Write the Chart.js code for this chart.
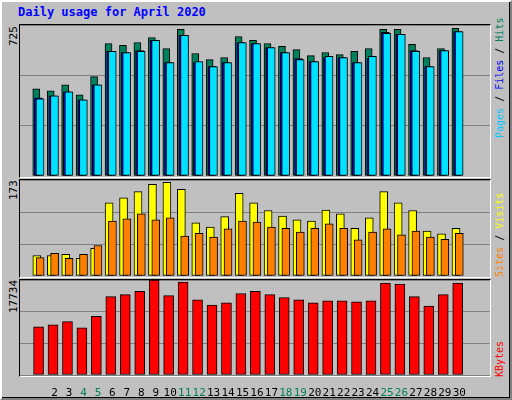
<!DOCTYPE html>
<html><head><meta charset="utf-8">
<script src="https://cdn.jsdelivr.net/npm/chart.js@4"></script>
<style>
body{margin:0;width:512px;height:400px;background:#C0C0C0;overflow:hidden;font-family:"DejaVu Sans Mono",monospace;}
#frame{position:absolute;left:0;top:0;width:508px;height:396px;border-top:2px solid #fff;border-left:2px solid #fff;border-right:2px solid #808080;border-bottom:2px solid #808080;box-shadow:inset -1px -1px 0 #000;}
.panel{position:absolute;left:19px;width:470px;border-top:1px solid #000;border-left:1px solid #000;border-right:1px solid #fff;border-bottom:1px solid #fff;}
.c{position:absolute;left:20px;}
.title{position:absolute;left:18px;top:5px;color:#0000FF;font-weight:bold;font-size:12px;}
.vl{position:absolute;transform-origin:0 0;transform:rotate(-90deg);font-size:11px;white-space:nowrap;line-height:12px;}
.vr{position:absolute;transform-origin:0 0;transform:rotate(-90deg);font-size:10px;white-space:nowrap;line-height:12px;}
</style></head><body>
<div id="frame"></div>
<div class="title">Daily usage for April 2020</div>
<div class="panel" style="top:24px;height:152px"></div>
<div class="panel" style="top:179px;height:97px"></div>
<div class="panel" style="top:279px;height:96px"></div>
<canvas id="c1" class="c" style="top:25px" width="470" height="151"></canvas>
<canvas id="c2" class="c" style="top:180px" width="470" height="96"></canvas>
<canvas id="c3" class="c" style="top:280px" width="470" height="117"></canvas>
<div class="vl" style="left:8px;top:46px;color:#000">725</div>
<div class="vl" style="left:8px;top:200px;color:#000">173</div>
<div class="vl" style="left:8px;top:313px;color:#000">17734</div>
<div class="vr" style="left:494px;top:138px"><span style="color:#00C8FF">Pages</span> / <span style="color:#0000FF">Files</span> / <span style="color:#00805C">Hits</span></div>
<div class="vr" style="left:494px;top:277px"><span style="color:#FF8000">Sites</span> / <span style="color:#FFFF00">Visits</span></div>
<div class="vr" style="left:494px;top:377px;color:#FF0000">KBytes</div>
<script>
const days=[1,2,3,4,5,6,7,8,9,10,11,12,13,14,15,16,17,18,19,20,21,22,23,24,25,26,27,28,29,30];
const weekendDays=[4,5,11,12,18,19,25,26];
const hits=[419,409,438,390,477,636,627,641,665,612,704,588,559,569,670,651,636,622,607,578,593,583,598,612,704,704,632,569,612,709];
const files=[375,385,404,366,438,598,593,602,651,544,675,544,525,544,641,636,617,593,564,549,569,569,544,564,690,680,602,525,602,694];
const pages=[370,385,404,366,438,598,593,598,651,544,675,549,525,544,641,636,617,593,559,549,574,569,544,574,685,680,598,525,602,694];
const visits=[37,37,39,32,50,132,141,152,165,169,156,96,88,107,149,132,118,108,101,99,119,112,86,105,152,132,118,81,76,86];
const sites=[33,41,32,39,55,99,103,112,101,105,72,77,70,85,99,97,88,86,79,86,94,86,65,79,85,74,81,70,66,77];
const kbytes=[8996,9384,9967,8802,10938,14627,15015,15598,17734,14821,17345,14044,13073,13462,15209,15598,15015,14433,14044,13462,13850,13850,13656,13850,17151,16957,14627,12879,15015,17151];
const yTop=[725,173,17734];

const pts=(arr,shift)=>days.map((d,i)=>({x:d+shift,y:arr[i]}));
function ds(arr,shift,color,w){return {data:pts(arr,shift),backgroundColor:color,borderColor:'#000',borderWidth:1,barThickness:w,grouped:false,borderSkipped:false};}
function mk(id,datasets,max,showX){
  new Chart(document.getElementById(id),{type:'bar',data:{datasets},
  options:{animation:false,responsive:false,devicePixelRatio:1,layout:{padding:0},
   plugins:{legend:{display:false},tooltip:{enabled:false}},
   scales:{
    x:{type:'linear',min:0.13,max:31.6,display:showX,grid:{display:false},border:{display:false},
       ticks:{stepSize:1,padding:4,autoSkip:false,maxRotation:0,minRotation:0,font:{family:'DejaVu Sans Mono',size:11},
         color:c=>weekendDays.includes(c.tick.value)?'#00805C':'#000',callback:v=>Number.isInteger(v)?v:''},
       afterFit:s=>{s.height=showX?22:0;}},
    y:{min:0,max:max,ticks:{display:false,stepSize:max/3},grid:{color:'#808080',drawTicks:false},border:{display:false},
       afterFit:s=>{s.width=0;}}
   }}});
}
// first dataset is drawn on top
mk('c1',[ds(pages,-0.01,'#00E0FF',8),ds(files,-0.12,'#0000FF',8),ds(hits,-0.27,'#00805C',7)],yTop[0],false);
mk('c2',[ds(sites,0,'#FF8000',8),ds(visits,-0.23,'#FFFF00',8)],yTop[1],false);
mk('c3',[ds(kbytes,-0.11,'#FF0000',10)],yTop[2],true);
</script>
</body></html>
